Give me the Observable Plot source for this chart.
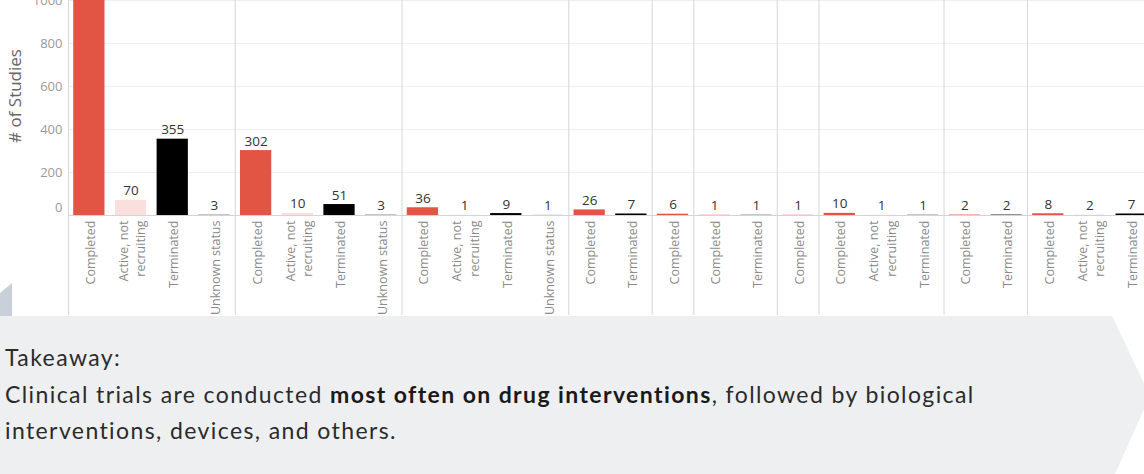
<!DOCTYPE html>
<html>
<head>
<meta charset="utf-8">
<script src="https://cdn.jsdelivr.net/npm/d3@7"></script>
<script src="https://cdn.jsdelivr.net/npm/@observablehq/plot@0.6"></script>
<style>
  html, body { margin: 0; padding: 0; background: #fff; }
  body { width: 1144px; height: 474px; overflow: hidden; position: relative; }
  #chart { position: absolute; left: 0; top: 0; }
  #chart svg { display: block; }
  #panel {
    position: absolute; left: 0; top: 316px; width: 1144px; height: 158px;
    background: #eeeff1; box-sizing: border-box; padding: 23px 0 0 5px;
    clip-path: polygon(0 0, 1112px 0, 1150px 80px, 1115px 158px, 0 158px);
    font-family: Lato, "Open Sans", sans-serif; font-size: 23px; letter-spacing: 1.4px;
    line-height: 36.5px; color: #2b2b2b; white-space: nowrap;
  }
  #panel b { font-weight: 700; color: #1a1a1a; }
  #tri {
    position: absolute; left: 0; top: 283px; width: 12px; height: 33px; background: #c9d0d9;
    clip-path: polygon(0 10px, 12px 0, 12px 33px, 0 33px);
  }
</style>
</head>
<body>
<div id="chart"></div>
<div id="tri"></div>
<div id="panel">Takeaway:<br>Clinical trials are conducted <b>most often on drug interventions</b>, followed by biological<br>interventions, devices, and others.</div>
<script>
// ---- data ----
const barGroup  = [1,1,1,1, 2,2,2,2, 3,3,3,3, 4,4, 5, 6,6, 7, 8,8,8, 9,9, 10,10,10];
const barStatus = [
  "Completed","Active, not recruiting","Terminated","Unknown status",
  "Completed","Active, not recruiting","Terminated","Unknown status",
  "Completed","Active, not recruiting","Terminated","Unknown status",
  "Completed","Terminated",
  "Completed",
  "Completed","Terminated",
  "Completed",
  "Completed","Active, not recruiting","Terminated",
  "Completed","Terminated",
  "Completed","Active, not recruiting","Terminated"
];
const barValue  = [1200,70,355,3, 302,10,51,3, 36,1,9,1, 26,7, 6, 1,1, 1, 10,1,1, 2,2, 8,2,7];

const statusNames      = ["Completed","Active, not recruiting","Terminated","Unknown status"];
const statusTickLabels = ["Completed","Active, not\nrecruiting","Terminated","Unknown status"];
const statusColors     = ["#e25545","#f9dfdd","#000000","#a3a3a3"];
const yTicks = [0,200,400,600,800,1000];

// ---- build table ----
const data = barValue.map((v, i) => ({
  key: barGroup[i] + "|" + barStatus[i],
  group: barGroup[i],
  status: barStatus[i],
  value: v
}));
const groupStarts = data.filter((d, i) => i === 0 || barGroup[i - 1] !== barGroup[i]);
const tickLabelOf = s => statusTickLabels[statusNames.indexOf(s)];

const xRange = [68, 1152];
const step = (xRange[1] - xRange[0]) / data.length;
const font = '"Open Sans", "DejaVu Sans", sans-serif';

const chart = Plot.plot({
  width: 1144,
  height: 316,
  marginLeft: 68,
  marginRight: 0,
  marginTop: 0,
  marginBottom: 101,
  style: { fontFamily: font, background: "transparent", overflow: "hidden" },
  x: { domain: data.map(d => d.key), range: xRange, paddingInner: 0.25, paddingOuter: 0.125, round: false, axis: null },
  y: { domain: [0, 1000], axis: null },
  color: { domain: statusNames, range: statusColors },
  marks: [
    Plot.gridY(yTicks.slice(1), { stroke: "#eeeeee", strokeOpacity: 1 }),
    Plot.ruleX(groupStarts, { x: "key", dx: -step / 2, stroke: "#d6d6d6", insetBottom: -100 }),
    Plot.ruleY([0], { stroke: "#d4d4d4" }),
    Plot.barY(data, { x: "key", y: "value", fill: "status" }),
    Plot.text(data, { x: "key", y: "value", text: d => String(d.value), dy: -5, lineAnchor: "bottom", fill: "#333", fontSize: 13.5 }),
    Plot.text(data, {
      x: "key", text: d => tickLabelOf(d.status), frameAnchor: "bottom", dy: 5,
      rotate: -90, textAnchor: "end", lineAnchor: "middle", lineHeight: 1.4,
      fill: "#8a8a8a", fontSize: 12.5
    }),
    Plot.text(yTicks.slice(1), { y: d => d, text: d => String(d), frameAnchor: "left", dx: -6, textAnchor: "end", fill: "#9a9a9a", fontSize: 13 }),
    Plot.text([0], { y: d => d, text: d => String(d), frameAnchor: "left", dx: -6, dy: -8, textAnchor: "end", fill: "#9a9a9a", fontSize: 13 }),
    Plot.text(["# of Studies"], { text: d => d, frameAnchor: "left", dx: -53, dy: -12, rotate: -90, textAnchor: "middle", fill: "#666", fontSize: 17 })
  ]
});
document.getElementById("chart").appendChild(chart);
</script>
</body>
</html>
